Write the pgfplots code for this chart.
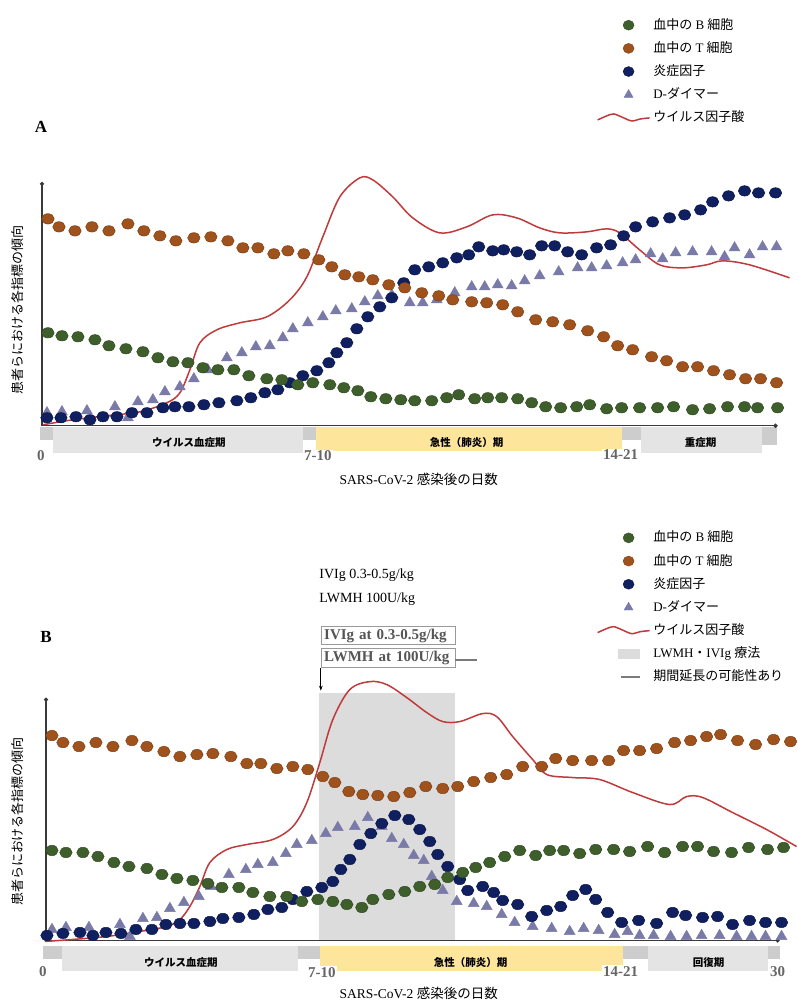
\documentclass[border=0pt]{standalone}
\usepackage{fontspec}
\setmainfont{Liberation Serif}
\newfontfamily\cjk{Noto Sans CJK JP}
\usepackage{pgfplots}
\pgfplotsset{compat=1.18}
\usetikzlibrary{arrows.meta}
\definecolor{tcol}{HTML}{A0521C}
\definecolor{gcol}{HTML}{3E5F2B}
\definecolor{ncol}{HTML}{0F1F5F}
\definecolor{dcol}{HTML}{7A7AA8}
\definecolor{rcol}{HTML}{C0393B}
\definecolor{yelbar}{HTML}{FDE59B}
\definecolor{gbar}{HTML}{E4E4E4}
\definecolor{gdark}{HTML}{CDCDCD}
\definecolor{treat}{HTML}{DCDCDC}
\definecolor{lgray}{HTML}{7A7A7A}
\definecolor{axcol}{HTML}{3A3A3A}
\definecolor{tickgray}{HTML}{666666}
\definecolor{boxgray}{HTML}{9A9A9A}
\definecolor{boxtext}{HTML}{555555}
\pgfplotsset{
  panel/.style={width=798pt,height=1003pt,scale only axis,xmin=0,xmax=798,ymin=0,ymax=1003,
    y dir=reverse,hide axis,clip=false,legend cell align=left,
    legend style={draw=none,fill=none,inner sep=0pt,row sep=9.2pt,column sep=3pt,
      font=\fontsize{13}{15}\selectfont,nodes={inner sep=0pt,text height=11pt,text depth=3pt}}},
  dots/.style={only marks,mark=*,mark size=5.2pt,color=#1,
    mark options={fill=#1,draw=#1!78!black,line width=0.5pt,xscale=1.2}},
  tris/.style={only marks,mark=triangle*,mark size=6.3pt,color=dcol,mark options={fill=dcol,draw=dcol}},
  virus/.style={color=rcol,line width=1.5pt,smooth,tension=0.55,no markers},
  dotleg/.style={legend image code/.code={\draw[##1] plot coordinates {(0pt,0pt)};}},
  waveleg/.style={legend image code/.code={\draw[##1] plot[smooth] coordinates {(-31pt,-2pt) (-22pt,2pt) (-15pt,4pt) (-7pt,1pt) (3pt,-3pt) (12pt,-1pt) (21pt,0pt)};}},
  arealeg/.style={legend image code/.code={\fill[treat] (-10pt,-4.5pt) rectangle (11pt,4.5pt);}},
  barleg/.style={legend image code/.code={\draw[line width=2.5pt,lgray] (-8pt,0pt) -- (11pt,0pt);}},
}
\begin{document}
\begin{tikzpicture}
%================ PANEL A =================
\begin{axis}[panel,legend style={at={(axis cs:597,18)},anchor=north west}]
\path (axis cs:0,0) rectangle (axis cs:798,1003);
% phase bars
\fill[gdark] (axis cs:40,427) rectangle (axis cs:53,440);
\fill[gbar] (axis cs:53,427) rectangle (axis cs:303,453);
\fill[gdark] (axis cs:303,427) rectangle (axis cs:316,440);
\fill[yelbar] (axis cs:316,427) rectangle (axis cs:622,451);
\fill[gdark] (axis cs:622,427) rectangle (axis cs:641,440);
\fill[gbar] (axis cs:641,427) rectangle (axis cs:762,453);
\fill[gdark] (axis cs:762,427) rectangle (axis cs:777,445);
\node[font=\cjk\bfseries\fontsize{10.5}{12}\selectfont] at (axis cs:189,443) {ウイルス血症期};
\node[font=\cjk\bfseries\fontsize{10.5}{12}\selectfont] at (axis cs:467,443) {急性（肺炎）期};
\node[font=\cjk\bfseries\fontsize{10.5}{12}\selectfont] at (axis cs:701,443) {重症期};
\node[font=\bfseries\fontsize{15}{15}\selectfont,text=tickgray] at (axis cs:41,456) {0};
\node[font=\bfseries\fontsize{15}{15}\selectfont,text=tickgray,fill=white,inner sep=1pt] at (axis cs:318,456) {7-10};
\node[font=\bfseries\fontsize{15}{15}\selectfont,text=tickgray,fill=white,inner sep=1pt] at (axis cs:621,455) {14-21};
\node[font=\fontsize{13.5}{15}\selectfont] at (axis cs:419,480) {SARS-CoV-2 {\cjk 感染後の日数}};
\node[font=\bfseries\fontsize{17}{17}\selectfont] at (axis cs:41,127) {A};
\node[rotate=90,font=\cjk\fontsize{13}{13}\selectfont] at (axis cs:18,310) {患者らにおける各指標の傾向};
% axes
\draw[line width=1.5pt,color=axcol,{Circle[length=4pt]}-{Circle[length=4pt]}] (axis cs:42,182) -- (axis cs:42,426) -- (axis cs:778,426);
% virus
\addplot[virus,forget plot] coordinates {(43,425)(73,420)(107,416)(140,412)(167,403)(180,393)(190,370)(200,343)(217,330)(240,323)(267,317)(290,300)(307,277)(323,237)(340,197)(360,178)(373,180)(393,197)(413,218)(440,233)(467,227)(493,215)(517,218)(540,228)(560,233)(587,232)(607,229)(620,233)(640,250)(660,265)(683,268)(707,265)(723,261)(750,265)(790,278)};
% D-dimer
\addplot[tris,forget plot] coordinates {(47,413)(62,412)(87,411)(115,407)(128,418)(138,402)(153,400)(165,392)(180,387)(194,379)(208,370)(227,358)(242,353)(256,347)(270,346)(283,338)(293,329)(308,323)(323,317)(336,311)(352,309)(365,302)(378,296)(392,295)(410,303)(423,303)(437,300)(455,293)(472,287)(485,287)(498,285)(512,286)(525,281)(540,276)(559,272)(578,268)(592,268)(607,266)(623,263)(636,260)(651,254)(663,259)(676,253)(693,252)(712,252)(725,257)(735,248)(750,255)(763,247)(777,247)};
% inflammatory factors
\addplot[dots=ncol,forget plot] coordinates {(47,418)(61,418)(76,417)(90,420)(103,417)(117,417)(132,413)(147,413)(163,408)(175,407)(189,407)(204,405)(219,403)(237,401)(251,398)(265,393)(278,390)(290,383)(303,376)(317,371)(329,363)(337,353)(347,343)(357,329)(368,317)(380,307)(392,298)(404,283)(415,270)(429,267)(443,263)(457,258)(469,255)(479,247)(493,251)(504,250)(517,252)(530,255)(542,246)(555,246)(568,252)(582,255)(597,248)(611,245)(624,236)(636,227)(653,222)(670,218)(685,215)(701,210)(713,202)(729,196)(745,191)(759,193)(776,193)};
% B cells
\addplot[dots=gcol,forget plot] coordinates {(48,333)(62,336)(78,337)(95,340)(109,346)(126,349)(143,352)(158,358)(173,362)(188,363)(203,368)(218,370)(234,370)(249,376)(267,379)(282,380)(298,385)(313,383)(330,385)(344,388)(358,391)(371,397)(386,399)(401,400)(415,401)(432,401)(447,398)(459,395)(475,399)(488,398)(502,398)(518,399)(532,403)(546,407)(561,408)(577,407)(590,405)(607,409)(622,408)(640,408)(658,408)(674,407)(693,410)(710,409)(728,407)(745,407)(758,408)(778,408)};
% T cells
\addplot[dots=tcol,forget plot] coordinates {(48,219)(59,227)(75,231)(92,227)(109,231)(128,224)(144,231)(160,236)(176,241)(194,238)(211,237)(228,241)(243,248)(258,248)(274,254)(288,251)(304,254)(319,260)(332,267)(345,275)(359,277)(373,280)(389,285)(405,288)(422,293)(439,296)(453,300)(472,302)(487,303)(503,305)(518,312)(536,320)(553,322)(570,325)(588,331)(604,337)(618,346)(633,350)(652,357)(667,361)(683,367)(698,367)(714,371)(730,375)(746,379)(761,379)(777,383)};
% legend
\addlegendimage{only marks,mark=*,mark size=5pt,color=gcol,mark options={fill=gcol,draw=gcol!78!black,xscale=1.1},dotleg}
\addlegendentry{{\cjk 血中の} B {\cjk 細胞}}
\addlegendimage{only marks,mark=*,mark size=5pt,color=tcol,mark options={fill=tcol,draw=tcol!78!black,xscale=1.1},dotleg}
\addlegendentry{{\cjk 血中の} T {\cjk 細胞}}
\addlegendimage{only marks,mark=*,mark size=5pt,color=ncol,mark options={fill=ncol,draw=ncol!78!black,xscale=1.1},dotleg}
\addlegendentry{{\cjk 炎症因子}}
\addlegendimage{only marks,mark=triangle*,mark size=5.2pt,color=dcol,mark options={fill=dcol,draw=dcol},dotleg}
\addlegendentry{D-{\cjk ダイマー}}
\addlegendimage{color=rcol,line width=1.5pt,waveleg}
\addlegendentry{{\cjk ウイルス因子酸}}
\end{axis}
%================ PANEL B =================
\begin{axis}[panel,legend style={at={(axis cs:597,531)},anchor=north west}]
\fill[treat] (axis cs:319,693) rectangle (axis cs:455,941);
\fill[gdark] (axis cs:43,947) rectangle (axis cs:62,960);
\fill[gbar] (axis cs:62,947) rectangle (axis cs:298,972);
\fill[gdark] (axis cs:298,947) rectangle (axis cs:320,960);
\fill[yelbar] (axis cs:320,947) rectangle (axis cs:623,972);
\fill[gdark] (axis cs:623,947) rectangle (axis cs:648,960);
\fill[gbar] (axis cs:648,947) rectangle (axis cs:768,972);
\fill[gdark] (axis cs:768,947) rectangle (axis cs:780,960);
\node[font=\cjk\bfseries\fontsize{10.5}{12}\selectfont] at (axis cs:181,963) {ウイルス血症期};
\node[font=\cjk\bfseries\fontsize{10.5}{12}\selectfont] at (axis cs:471,963) {急性（肺炎）期};
\node[font=\cjk\bfseries\fontsize{10.5}{12}\selectfont] at (axis cs:709,963) {回復期};
\node[font=\bfseries\fontsize{15}{15}\selectfont,text=tickgray] at (axis cs:43,972) {0};
\node[font=\bfseries\fontsize{15}{15}\selectfont,text=tickgray,fill=white,inner sep=1pt] at (axis cs:322,973) {7-10};
\node[font=\bfseries\fontsize{15}{15}\selectfont,text=tickgray,fill=white,inner sep=1pt] at (axis cs:621,972) {14-21};
\node[font=\bfseries\fontsize{15}{15}\selectfont,text=tickgray] at (axis cs:778,972) {30};
\node[font=\fontsize{13.5}{15}\selectfont] at (axis cs:419,994) {SARS-CoV-2 {\cjk 感染後の日数}};
\node[font=\bfseries\fontsize{17}{17}\selectfont] at (axis cs:46,637) {B};
\node[rotate=90,font=\cjk\fontsize{13}{13}\selectfont] at (axis cs:18,822) {患者らにおける各指標の傾向};
\node[anchor=west,font=\fontsize{14}{14}\selectfont] at (axis cs:316,575) {IVIg 0.3-0.5g/kg};
\node[anchor=west,font=\fontsize{14}{14}\selectfont] at (axis cs:316,600) {LWMH 100U/kg};
\node[draw=boxgray,line width=0.8pt,anchor=west,text width=128pt,inner xsep=3pt,inner ysep=0pt,minimum height=18pt,
  font=\bfseries\fontsize{15}{15}\selectfont,text=boxtext,align=left] at (axis cs:321,636) {IVIg at 0.3-0.5g/kg};
\node[draw=boxgray,line width=0.8pt,anchor=west,text width=128pt,inner xsep=3pt,inner ysep=0pt,minimum height=19pt,
  font=\bfseries\fontsize{15}{15}\selectfont,text=boxtext,align=left] at (axis cs:321,658) {LWMH at 100U/kg};
\draw[line width=2pt,color=lgray] (axis cs:455,660) -- (axis cs:477,660);
\draw[line width=1pt,-{Stealth[length=5pt]}] (axis cs:321,668) -- (axis cs:321,691);
\draw[line width=1.5pt,color=axcol,{Circle[length=4pt]}-{Circle[length=4pt]}] (axis cs:46,698) -- (axis cs:46,941) -- (axis cs:780,941);
% virus
\addplot[virus,forget plot] coordinates {(45,942)(73,940)(107,937)(140,932)(167,927)(180,920)(190,907)(200,887)(210,863)(227,850)(247,845)(273,840)(293,827)(307,803)(320,763)(333,720)(350,690)(370,682)(387,685)(407,698)(427,713)(443,722)(460,722)(483,714)(497,717)(513,737)(533,760)(547,775)(573,778)(600,780)(633,793)(670,805)(687,797)(703,798)(733,813)(767,830)(797,847)};
% D-dimer
\addplot[tris,forget plot] coordinates {(52,930)(66,928)(89,928)(120,925)(130,937)(143,919)(157,918)(170,909)(184,903)(199,897)(211,887)(229,875)(246,870)(258,865)(273,863)(286,854)(297,845)(312,841)(326,834)(338,828)(355,827)(368,818)(382,827)(392,839)(404,845)(414,856)(424,861)(432,877)(443,891)(457,902)(474,904)(487,907)(502,915)(515,923)(533,927)(552,929)(570,932)(584,929)(599,931)(615,935)(628,932)(640,936)(654,936)(671,937)(687,937)(702,936)(720,936)(737,937)(752,937)(766,937)(782,937)};
% inflammatory
\addplot[dots=ncol,forget plot] coordinates {(47,936)(63,934)(80,933)(93,936)(106,933)(121,934)(136,930)(152,930)(166,925)(180,924)(194,924)(210,922)(223,919)(239,918)(254,915)(268,910)(282,908)(293,900)(307,892)(322,888)(333,882)(341,870)(350,860)(360,845)(371,834)(382,824)(395,816)(409,820)(420,830)(430,842)(438,855)(448,867)(460,880)(468,891)(483,887)(494,893)(503,901)(518,905)(532,917)(547,911)(561,907)(573,896)(586,890)(596,900)(608,913)(622,923)(639,921)(657,924)(673,913)(686,916)(703,918)(718,917)(733,925)(750,921)(766,923)(782,923)};
% B cells
\addplot[dots=gcol,forget plot] coordinates {(52,851)(66,853)(83,853)(98,857)(114,863)(129,867)(147,869)(162,875)(177,879)(193,881)(208,884)(222,888)(239,888)(253,893)(270,897)(287,897)(302,902)(318,900)(333,902)(347,905)(362,908)(373,900)(389,895)(405,892)(420,887)(435,885)(448,878)(463,873)(476,868)(490,863)(505,857)(520,851)(536,856)(550,851)(564,851)(580,854)(596,850)(614,850)(630,852)(648,847)(665,853)(683,847)(698,847)(714,852)(732,853)(749,848)(768,850)(784,848)};
% T cells
\addplot[dots=tcol,forget plot] coordinates {(52,736)(63,743)(79,747)(96,743)(113,747)(132,741)(147,747)(164,752)(180,757)(197,755)(213,754)(231,757)(247,764)(261,764)(277,769)(293,767)(308,770)(323,777)(335,783)(349,792)(363,795)(378,796)(394,797)(410,793)(426,787)(443,789)(458,787)(474,782)(491,778)(507,775)(523,767)(542,767)(556,759)(573,761)(592,761)(609,761)(624,751)(640,751)(657,749)(675,743)(691,741)(707,737)(721,735)(738,741)(756,745)(774,740)(791,742)};
% legend
\addlegendimage{only marks,mark=*,mark size=5pt,color=gcol,mark options={fill=gcol,draw=gcol!78!black,xscale=1.1},dotleg}
\addlegendentry{{\cjk 血中の} B {\cjk 細胞}}
\addlegendimage{only marks,mark=*,mark size=5pt,color=tcol,mark options={fill=tcol,draw=tcol!78!black,xscale=1.1},dotleg}
\addlegendentry{{\cjk 血中の} T {\cjk 細胞}}
\addlegendimage{only marks,mark=*,mark size=5pt,color=ncol,mark options={fill=ncol,draw=ncol!78!black,xscale=1.1},dotleg}
\addlegendentry{{\cjk 炎症因子}}
\addlegendimage{only marks,mark=triangle*,mark size=5.2pt,color=dcol,mark options={fill=dcol,draw=dcol},dotleg}
\addlegendentry{D-{\cjk ダイマー}}
\addlegendimage{color=rcol,line width=1.5pt,waveleg}
\addlegendentry{{\cjk ウイルス因子酸}}
\addlegendimage{arealeg}
\addlegendentry{LWMH{\cjk ・}IVIg {\cjk 療法}}
\addlegendimage{barleg}
\addlegendentry{{\cjk 期間延長の可能性あり}}
\end{axis}
\end{tikzpicture}
\end{document}
